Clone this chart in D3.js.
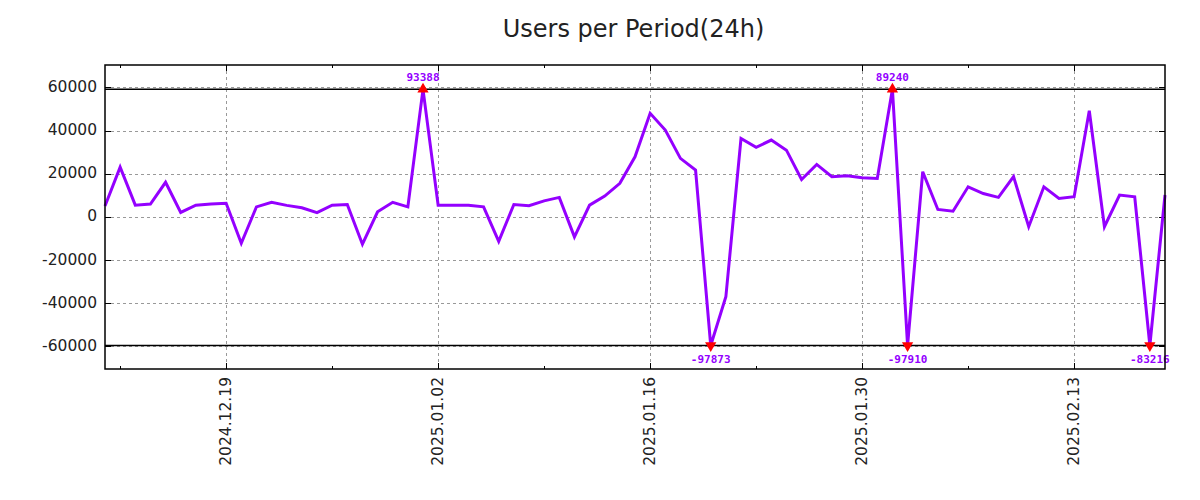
<!DOCTYPE html>
<html>
<head>
<meta charset="utf-8">
<script src="https://cdn.jsdelivr.net/npm/d3@7"></script>
<style>
  html, body { margin: 0; padding: 0; background: #fff; }
  svg { display: block; }
</style>
</head>
<body>
<svg id="chart" width="1200" height="500"></svg>
<script>
// ---- data ----
const title = "Users per Period(24h)";
const startDate = "2024-12-11";
const values = [
  5000, 23000, 5400, 5900, 16000, 2000, 5400, 5900, 6300, -12300,
  4600, 6700, 5300, 4200, 1900, 5400, 5700, -12700, 2300, 6700,
  4600, 93388, 5400, 5400, 5400, 4600, -11400, 5700, 5100, 7400,
  9000, -9300, 5400, 9600, 15500, 27800, 48000, 40200, 27100, 21700,
  -97873, -37100, 36300, 32200, 35600, 30900, 17300, 24300, 18600, 19000,
  18100, 17800, 89240, -97910, 20900, 3400, 2600, 13900, 10800, 9000,
  18600, -4600, 13900, 8500, 9300, 49200, -4600, 10100, 9300, -83216,
  10100
];
const yTicks = [-60000, -40000, -20000, 0, 20000, 40000, 60000];
const xTickLabels = ["2024.12.19", "2025.01.02", "2025.01.16", "2025.01.30", "2025.02.13"];
const xMinorTickDates = ["2024-12-12", "2024-12-26", "2025-01-09", "2025-01-23", "2025-02-06"];
const clipHigh = 59100;
const clipLow = -59700;
const yDomain = [-70600, 70400];

// ---- layout ----
const L = 105, R = 1165, T = 65, B = 369;
const svg = d3.select("#chart");
const textColor = "#222";
const lineColor = "#9400ff";

const parse = d3.utcParse("%Y-%m-%d");
const parseDot = d3.utcParse("%Y.%m.%d");
const start = parse(startDate);
const data = values.map((v, i) => ({ date: d3.utcDay.offset(start, i), value: v }));

const x = d3.scaleUtc()
  .domain([data[0].date, data[data.length - 1].date])
  .range([L, R]);
const y = d3.scaleLinear().domain(yDomain).range([B, T]);

const majorDates = xTickLabels.map(s => parseDot(s));
const minorDates = xMinorTickDates.map(s => parse(s));

// title
svg.append("text")
  .attr("x", 633.5).attr("y", 37)
  .attr("text-anchor", "middle")
  .attr("font-family", "DejaVu Sans")
  .attr("font-size", 24)
  .attr("fill", textColor)
  .text(title);

// grid
const grid = svg.append("g").attr("stroke", "#999").attr("stroke-width", 1)
  .attr("stroke-dasharray", "3,3").attr("shape-rendering", "crispEdges");
yTicks.forEach(t => {
  grid.append("line").attr("x1", L).attr("x2", R)
    .attr("y1", Math.round(y(t)) + 0.5).attr("y2", Math.round(y(t)) + 0.5);
});
majorDates.forEach(d => {
  grid.append("line").attr("y1", T).attr("y2", B)
    .attr("x1", Math.round(x(d)) + 0.5).attr("x2", Math.round(x(d)) + 0.5);
});

// clip lines
[clipHigh, clipLow].forEach(c => {
  svg.append("line").attr("x1", L).attr("x2", R)
    .attr("y1", y(c)).attr("y2", y(c))
    .attr("stroke", "#000").attr("stroke-width", 1.5);
});

// axes ticks (inward, mirrored)
const ticks = svg.append("g").attr("stroke", "#000").attr("stroke-width", 1).attr("shape-rendering", "crispEdges");
yTicks.forEach(t => {
  const yy = Math.round(y(t)) + 0.5;
  ticks.append("line").attr("x1", L).attr("x2", L + 6).attr("y1", yy).attr("y2", yy);
  ticks.append("line").attr("x1", R - 6).attr("x2", R).attr("y1", yy).attr("y2", yy);
});
majorDates.forEach(d => {
  const xx = Math.round(x(d)) + 0.5;
  ticks.append("line").attr("x1", xx).attr("x2", xx).attr("y1", B).attr("y2", B - 6);
  ticks.append("line").attr("x1", xx).attr("x2", xx).attr("y1", T).attr("y2", T + 6);
});
minorDates.forEach(d => {
  const xx = Math.round(x(d)) + 0.5;
  ticks.append("line").attr("x1", xx).attr("x2", xx).attr("y1", B).attr("y2", B - 3);
  ticks.append("line").attr("x1", xx).attr("x2", xx).attr("y1", T).attr("y2", T + 3);
});

// y labels
svg.append("g").selectAll("text").data(yTicks).join("text")
  .attr("x", 97).attr("y", d => y(d))
  .attr("dy", "0.3em")
  .attr("text-anchor", "end")
  .attr("font-family", "DejaVu Sans")
  .attr("font-size", 15.5)
  .attr("fill", textColor)
  .text(d => d);

// x labels
svg.append("g").selectAll("text").data(majorDates).join("text")
  .attr("transform", d => `translate(${x(d)},377) rotate(-90)`)
  .attr("dy", "0.3em")
  .attr("text-anchor", "end")
  .attr("font-family", "DejaVu Sans")
  .attr("font-size", 15.5)
  .attr("fill", textColor)
  .text(d => d3.utcFormat("%Y.%m.%d")(d));

// line (clamped to clip limits)
const clamp = v => Math.max(clipLow, Math.min(clipHigh, v));
svg.append("path")
  .datum(data)
  .attr("fill", "none")
  .attr("stroke", lineColor)
  .attr("stroke-width", 3)
  .attr("stroke-linejoin", "miter")
  .attr("d", d3.line().x(d => x(d.date)).y(d => y(clamp(d.value))));

// out-of-range markers and labels
const outliers = data.filter(d => d.value > clipHigh || d.value < clipLow);
const tri = d3.symbol().type(d3.symbolTriangle).size(55);
outliers.forEach(d => {
  const high = d.value > clipHigh;
  const cx = x(d.date), cy = y(high ? clipHigh : clipLow);
  svg.append("path")
    .attr("d", tri())
    .attr("fill", "#ff0000")
    .attr("transform", `translate(${cx},${cy}) rotate(${high ? 0 : 180})`);
  svg.append("text")
    .attr("x", cx).attr("y", high ? 80.5 : 363)
    .attr("text-anchor", "middle")
    .attr("font-family", "DejaVu Sans Mono")
    .attr("font-weight", "bold")
    .attr("font-size", 11)
    .attr("fill", lineColor)
    .text(d.value);
});

// frame
svg.append("rect")
  .attr("x", L).attr("y", T).attr("width", R - L).attr("height", B - T)
  .attr("fill", "none").attr("stroke", "#000").attr("stroke-width", 1.5);
</script>
</body>
</html>
